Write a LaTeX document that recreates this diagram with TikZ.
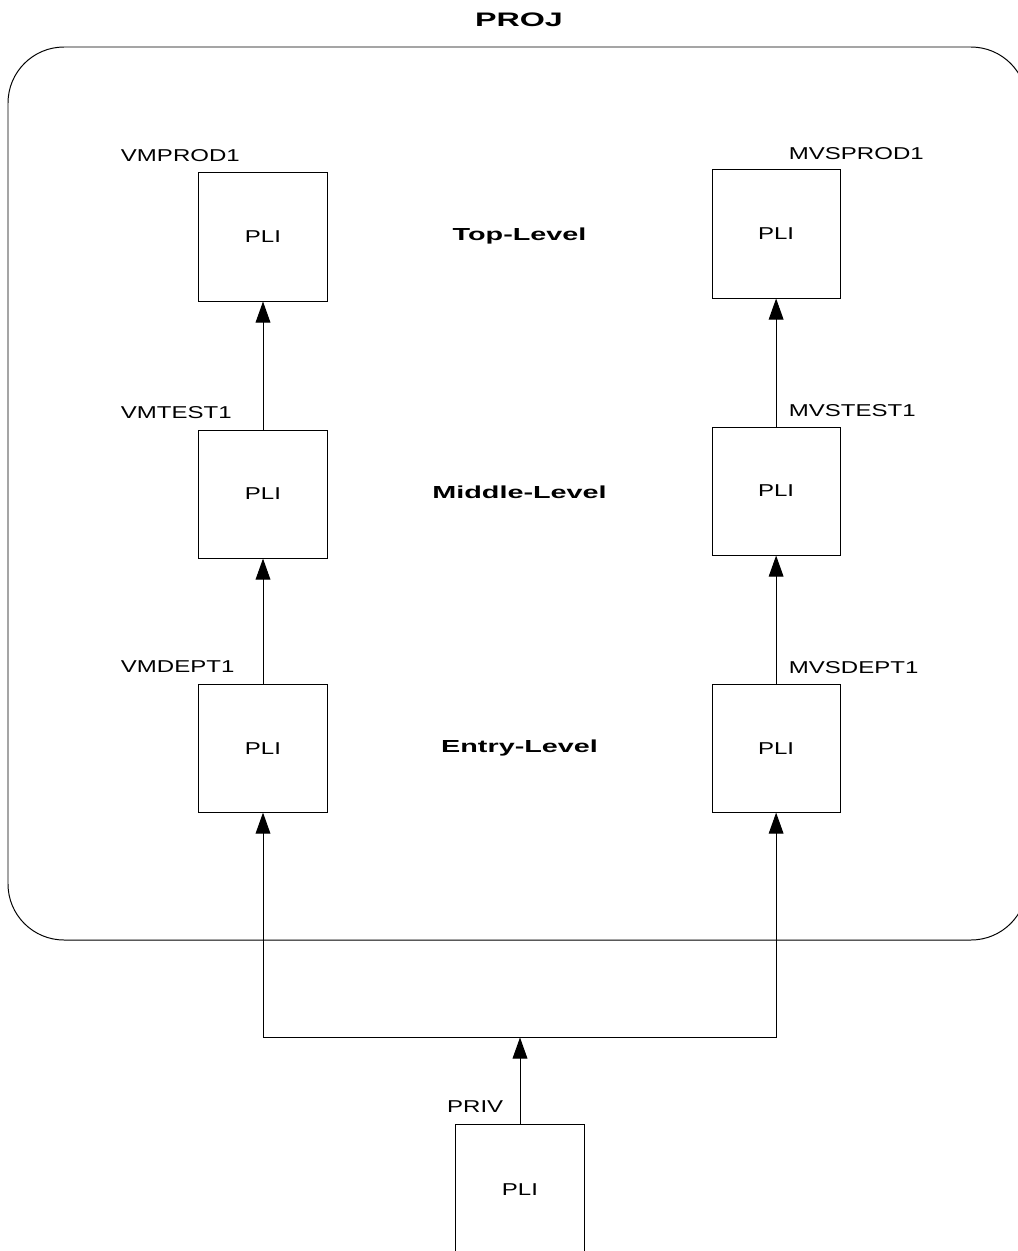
\documentclass[tikz,border=0pt]{standalone}
\usepackage{fontspec}
\setmainfont{Liberation Sans}[FakeStretch=1.4]
\newfontfamily\levelfont{Liberation Sans}[FakeStretch=1.65]
\usetikzlibrary{arrows.meta,positioning,calc}

\begin{document}
\begin{tikzpicture}[x=0.025cm, y=-0.025cm, node distance=3.2cm and 9.6cm,
font=\fontsize{12.2}{14}\selectfont, line width=0.7pt,
block/.style={draw, minimum width=3.2cm, minimum height=3.2cm, inner sep=0pt},
tag/.style={anchor=base west, inner sep=0pt},
level/.style={font=\levelfont\bfseries\fontsize{12.4}{14}\selectfont},
arrow/.style={-{Triangle[length=15pt, width=10.5pt]}}]
\useasboundingbox (0,0) rectangle (1018,1251);
% project frame
\draw[rounded corners=1.4cm] (8,47) rectangle (1027,940);
\node[font=\levelfont\bfseries\fontsize{13.9}{16}\selectfont] (proj) at (519,20) {PROJ};
% left column
\node[block] (vmprod) at (263,237) {PLI};
\node[block, below=of vmprod] (vmtest) {PLI};
\node[block, below=3.125cm of vmtest] (vmdept) {PLI};
% right column
\node[block, right=of vmprod, yshift=0.075cm] (mvsprod) {PLI};
\node[block, below=of mvsprod] (mvstest) {PLI};
\node[block, below=of mvstest] (mvsdept) {PLI};
% private library
\node[block, minimum height=3.3cm] (priv) at (520,1190) {PLI};
% library names
\node[tag] (vmprodtag) at ([xshift=-1.95cm, yshift=0.27cm]vmprod.north west) {VMPROD1};
\node[tag] (vmtesttag) at ([xshift=-1.95cm, yshift=0.27cm]vmtest.north west) {VMTEST1};
\node[tag] (vmdepttag) at ([xshift=-1.95cm, yshift=0.27cm]vmdept.north west) {VMDEPT1};
\node[tag] (mvsprodtag) at ([xshift=1.92cm, yshift=0.25cm]mvsprod.north west) {MVSPROD1};
\node[tag] (mvstesttag) at ([xshift=1.92cm, yshift=0.25cm]mvstest.north west) {MVSTEST1};
\node[tag] (mvsdepttag) at ([xshift=1.92cm, yshift=0.25cm]mvsdept.north west) {MVSDEPT1};
\node[tag] (privtag) at ([xshift=-0.22cm, yshift=0.27cm]priv.north west) {PRIV};
% levels
\node[level] (top) at ($(vmprod)!0.5!(mvsprod)$) {Top-Level};
\node[level] (middle) at ($(vmtest)!0.5!(mvstest)$) {Middle-Level};
\node[level] (entry) at ($(vmdept)!0.5!(mvsdept)$) {Entry-Level};
% promotion paths
\draw[arrow] (vmtest) -- (vmprod);
\draw[arrow] (vmdept) -- (vmtest);
\draw[arrow] (mvstest) -- (mvsprod);
\draw[arrow] (mvsdept) -- (mvstest);
\coordinate[above=2.15cm of priv.north] (fork);
\draw[arrow] (priv) -- (fork);
\draw[arrow] (fork) -| (vmdept.south);
\draw[arrow] (fork) -| (mvsdept.south);
\end{tikzpicture}
\end{document}
